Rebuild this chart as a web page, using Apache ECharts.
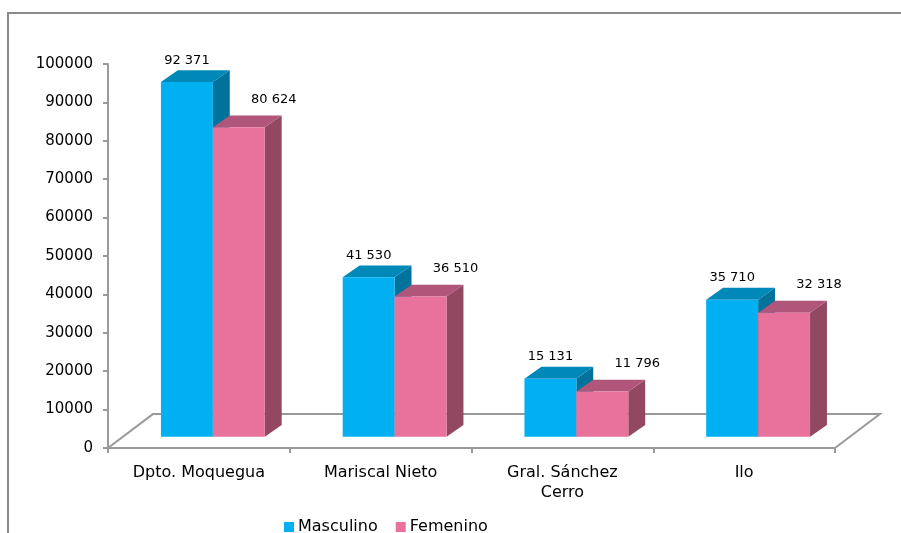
<!DOCTYPE html>
<html><head><meta charset="utf-8">
<script src="https://cdn.jsdelivr.net/npm/echarts@6/dist/echarts.min.js"></script>
<style>html,body{margin:0;padding:0;background:#fff}#c{width:901px;height:533px}</style>
</head><body><div id="c"></div>
<script>
const categories = ['Dpto. Moquegua', 'Mariscal Nieto', 'Gral. Sánchez\nCerro', 'Ilo'];
const masculino = [92371, 41530, 15131, 35710];
const femenino = [80624, 36510, 11796, 32318];
const seriesNames = ['Masculino', 'Femenino'];
const yTicks = { min: 0, max: 100000, interval: 10000 };

const FONT = '"DejaVu Sans", sans-serif';
const palette = [
  { front: '#00B0F0', top: '#0088B8', side: '#00729C' },
  { front: '#E9729C', top: '#B0567A', side: '#934862' }
];
function fmt(v) { return String(v).replace(/\B(?=(\d{3})+(?!\d))/g, ' '); }

function makeRender(si) {
  return function (params, api) {
    const ci = api.value(0), v = api.value(1);
    const top = api.coord([ci, v]);
    const base = api.coord([ci, 0]);
    const band = api.size([1, 0])[0];
    const bw = band * 0.2857;
    const offX = band * 0.077, offY = -offX * 0.8;
    const dX = band * 0.093, dY = -dX * 0.7;
    const x0 = base[0] + offX + (si === 0 ? -bw : 0);
    const yt = top[1] + offY, yb = base[1] + offY;
    const c = palette[si];
    const txt = fmt(v);
    return {
      type: 'group',
      children: [
        { type: 'polygon', shape: { points: [[x0 + bw, yt], [x0 + bw + dX, yt + dY], [x0 + bw + dX, yb + dY], [x0 + bw, yb]] }, style: { fill: c.side } },
        { type: 'polygon', shape: { points: [[x0, yt], [x0 + bw, yt], [x0 + bw + dX, yt + dY], [x0 + dX, yt + dY]] }, style: { fill: c.top } },
        { type: 'rect', shape: { x: x0, y: yt, width: bw, height: yb - yt }, style: { fill: c.front } },
        { type: 'text', x: x0 + bw / 2 + (si === 0 ? 0 : 35), y: yt + dY - (si === 0 ? 10 : 16),
          style: { text: txt, fill: '#000', font: '13px ' + FONT, align: 'center', verticalAlign: 'middle' } }
      ]
    };
  };
}

function floorRender(params, api) {
  const cs = params.coordSys;
  const band = api.size([1, 0])[0];
  const fx = band * 0.247, fy = -fx * 0.755;
  const x1 = cs.x, y1 = cs.y + cs.height, x2 = cs.x + cs.width;
  return {
    type: 'polyline',
    shape: { points: [[x1, y1], [x1 + fx, y1 + fy], [x2 + fx, y1 + fy], [x2, y1]] },
    style: { stroke: '#9a9a9a', lineWidth: 2, fill: null }
  };
}

const chart = echarts.init(document.getElementById('c'), null, { renderer: 'canvas' });
chart.setOption({
  animation: false,
  backgroundColor: '#fff',
  graphic: [{ type: 'rect', shape: { x: 8, y: 13, width: 1200, height: 1200 }, style: { fill: null, stroke: '#8a8a8a', lineWidth: 2 }, silent: true, z: -1 }],
  grid: { left: 108, right: 66, top: 64, bottom: 85 },
  legend: {
    left: 279, top: 514, itemWidth: 10, itemHeight: 10, itemGap: 18, icon: 'rect',
    textStyle: { fontFamily: FONT, fontSize: 16, color: '#000', padding: [0, 0, 0, -1] },
    data: seriesNames
  },
  xAxis: {
    type: 'category', data: categories,
    axisLine: { lineStyle: { color: '#9a9a9a', width: 2 } },
    axisTick: { show: true, length: 5, lineStyle: { color: '#9a9a9a', width: 2 } },
    axisLabel: { fontFamily: FONT, fontSize: 16, color: '#000', margin: 15, lineHeight: 20, interval: 0 }
  },
  yAxis: {
    type: 'value', min: yTicks.min, max: yTicks.max, interval: yTicks.interval,
    axisLine: { show: true, lineStyle: { color: '#9a9a9a', width: 2 } },
    axisTick: { show: true, length: 5, lineStyle: { color: '#9a9a9a', width: 2 } },
    splitLine: { show: false },
    axisLabel: { fontFamily: FONT, fontSize: 15, color: '#000', margin: 15, formatter: v => String(v) }
  },
  series: [
    { type: 'custom', name: 'floor', renderItem: floorRender, data: [[0, 0]], clip: false, silent: true, z: 1 },
    { type: 'custom', name: seriesNames[0], renderItem: makeRender(0), itemStyle: { color: palette[0].front },
      data: masculino.map((v, i) => [i, v]), encode: { x: 0, y: 1 }, clip: false, z: 2 },
    { type: 'custom', name: seriesNames[1], renderItem: makeRender(1), itemStyle: { color: palette[1].front },
      data: femenino.map((v, i) => [i, v]), encode: { x: 0, y: 1 }, clip: false, z: 3 }
  ]
});
</script></body></html>
